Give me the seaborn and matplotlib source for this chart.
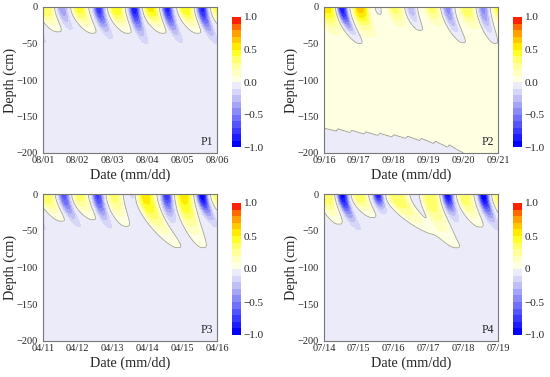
import numpy as np
import matplotlib
matplotlib.use("Agg")
import matplotlib.pyplot as plt
from matplotlib.colors import ListedColormap, BoundaryNorm
import seaborn as sns

# ---- data ----
# each lobe: surface peak day, peak value, day and depth (cm) of the lobe tip, time width (days)
p1_dates = ["08/01", "08/02", "08/03", "08/04", "08/05", "08/06"]
p1_peak_t = [0.08, 0.55, 1.05, 1.6, 2.1, 2.62, 3.1, 3.57, 4.1, 4.57, 5.05, -0.45]
p1_peak_v = [0.45, -0.35, 0.5, -0.75, 0.55, -0.85, 0.6, -0.8, 0.55, -0.8, 0.5, -0.45]
p1_tip_t = [0.43, 0.8, 1.43, 1.96, 2.44, 2.97, 3.45, 3.97, 4.45, 5.0, 5.4, 0.05]
p1_tip_d = [34, 32, 36, 45, 36, 52, 36, 50, 36, 52, 36, 50]
p1_width = [0.2, 0.15, 0.2, 0.16, 0.2, 0.16, 0.2, 0.16, 0.2, 0.16, 0.2, 0.16]
p1_base = -0.05

p2_dates = ["09/16", "09/17", "09/18", "09/19", "09/20", "09/21"]
p2_peak_t = [0.1, 0.52, 1.05, 1.55, 2.05, 2.5, 3.1, 3.55, 4.1, 4.57, 5.05]
p2_peak_v = [0.5, -0.95, 0.6, -0.15, 0.3, -0.35, 0.3, -0.5, 0.35, -0.5, 0.4]
p2_tip_t = [0.35, 1.03, 1.36, 1.6, 2.23, 2.76, 3.3, 4.0, 4.35, 4.92, 5.3]
p2_tip_d = [38, 50, 41, 10, 27, 32, 25, 49, 30, 50, 30]
p2_width = [0.2, 0.16, 0.2, 0.08, 0.18, 0.15, 0.18, 0.16, 0.18, 0.16, 0.18]
p2_base = 0.05
p2_floor_t = [0, 0.35, 0.4, 0.75, 0.8, 1.15, 1.2, 1.55, 1.6, 1.95, 2.0, 2.35, 2.4,
              2.75, 2.8, 3.15, 3.2, 3.55, 3.6, 4.0, 5]
p2_floor_d = [166, 170, 167, 172, 169, 174, 171, 176, 173, 178, 175, 180, 177,
              183, 180, 187, 184, 192, 189, 200, 215]

p3_dates = ["04/11", "04/12", "04/13", "04/14", "04/15", "04/16"]
p3_peak_t = [0.1, 0.6, 1.05, 1.57, 2.05, 2.55, 2.95, 3.55, 4.05, 4.57, 5.05, -0.45]
p3_peak_v = [0.45, -0.6, 0.4, -0.7, 0.4, -0.2, 0.6, -0.75, 0.6, -0.95, 0.45, -0.5]
p3_tip_t = [0.53, 1.05, 1.44, 1.92, 2.39, 2.6, 3.88, 3.74, 4.6, 4.98, 5.4, 0.05]
p3_tip_d = [37, 46, 35, 48, 44, 8, 73, 41, 73, 46, 35, 50]
p3_width = [0.2, 0.16, 0.2, 0.16, 0.2, 0.07, 0.24, 0.16, 0.22, 0.16, 0.2, 0.16]
p3_base = -0.05

p4_dates = ["07/14", "07/15", "07/16", "07/17", "07/18", "07/19"]
p4_peak_t = [0.08, 0.53, 1.02, 1.55, 2.1, 3.05, 3.55, 4.05, 4.58, 5.05]
p4_peak_v = [0.45, -0.9, 0.45, -0.85, 0.45, 0.45, -0.9, 0.45, -0.95, 0.45]
p4_tip_t = [0.43, 1.01, 1.4, 1.72, 3.2, 3.75, 3.81, 4.49, 5.0, 5.4]
p4_tip_d = [41, 50, 32, 28, 55, 70, 39, 45, 50, 40]
p4_width = [0.2, 0.16, 0.2, 0.15, 0.28, 0.24, 0.16, 0.2, 0.16, 0.2]
p4_base = -0.05

cb_ticks = [-1.0, -0.5, 0, 0.5, 1.0]
cb_labels = ["\u22121.0", "\u22120.5", "0", "0.5", "1.0"]
depth_ticks = [0, -50, -100, -150, -200]

# ---- style ----
sns.set_theme(style="white")
plt.rcParams["font.family"] = ["Liberation Serif", "DejaVu Serif"]
plt.rcParams["axes.unicode_minus"] = True

band_colors = [
    "#0000ff", "#1c1cff", "#3838fe", "#5454fc", "#7070fa",
    "#8b8bf8", "#a5a5f6", "#bfbff6", "#d6d6f8", "#ebebf9",
    "#ffffe2", "#ffffc2", "#ffff9c", "#ffff6a", "#ffff28",
    "#ffea00", "#ffc800", "#ffa000", "#ff6a00", "#ff2000",
]
levels = np.linspace(-1, 1, 21)
cmap = ListedColormap(band_colors)
norm = BoundaryNorm(levels, cmap.N)

t_grid = np.linspace(0, 5, 700)
d_grid = np.linspace(0, 200, 500)
T, D = np.meshgrid(t_grid, d_grid)


def build_field(peak_t, peak_v, tip_t, tip_d, width, base):
    z = np.full_like(T, base)
    for t0, a, tt, td, w in zip(peak_t, peak_v, tip_t, tip_d, width):
        ratio = np.log(abs(a) / 0.05)
        depth_scale = td / np.sqrt(ratio)
        # lobes stay upright near the surface and bend later deeper down
        lag = (tt - t0) * (D / td) ** 1.6
        shift = np.abs((T - t0 - lag) / w)
        z += a * np.exp(-(D / depth_scale) ** 2) * np.exp(-shift ** 3)
    return z


fields = [
    build_field(p1_peak_t, p1_peak_v, p1_tip_t, p1_tip_d, p1_width, p1_base),
    build_field(p2_peak_t, p2_peak_v, p2_tip_t, p2_tip_d, p2_width, p2_base),
    build_field(p3_peak_t, p3_peak_v, p3_tip_t, p3_tip_d, p3_width, p3_base),
    build_field(p4_peak_t, p4_peak_v, p4_tip_t, p4_tip_d, p4_width, p4_base),
]
floor = np.interp(T, p2_floor_t, p2_floor_d)
fields[1] = np.where(D > floor, -0.05, fields[1])

all_dates = [p1_dates, p2_dates, p3_dates, p4_dates]
names = ["P1", "P2", "P3", "P4"]

W, H = 550, 377
fig = plt.figure(figsize=(W / 100, H / 100), dpi=100)
# pixel boxes: (left, top, right, bottom) of plot areas and colorbars
ax_boxes = [(43, 7, 217, 153), (324, 7, 498, 153), (43, 194, 217, 341), (324, 194, 498, 341)]
cb_boxes = [(232, 17, 241, 147), (513, 17, 522, 147), (232, 203, 241, 335), (513, 203, 522, 335)]


def frac(box):
    l, t, r, b = box
    return [l / W, 1 - b / H, (r - l) / W, (b - t) / H]


for i in range(4):
    ax = fig.add_axes(frac(ax_boxes[i]))
    cf = ax.contourf(T, -D, fields[i], levels=levels, cmap=cmap, norm=norm)
    ax.contour(T, -D, fields[i], levels=[0], colors="#a0a0a0", linewidths=0.6)
    ax.set_xlim(0, 5)
    ax.set_ylim(-200, 0)
    ax.set_xticks(range(6))
    ax.set_xticklabels(all_dates[i], fontsize=7.5)
    ax.set_yticks(depth_ticks)
    ax.set_yticklabels([f"{v:d}".replace("-", "\u2212") for v in depth_ticks], fontsize=7.5)
    ax.tick_params(axis="x", direction="in", length=2.5, width=0.6, color="#666666", pad=2)
    ax.tick_params(axis="y", direction="out", length=2.5, width=0.6, color="#666666", pad=1)
    for sp in ax.spines.values():
        sp.set_color("#777777")
        sp.set_linewidth(0.8)
    ax.set_xlabel("Date (mm/dd)", fontsize=10.3)
    ax.set_ylabel("Depth (cm)", fontsize=10.3)
    ax.xaxis.set_label_coords(0.5, -0.105)
    ax.yaxis.set_label_coords(-0.15, 0.5)
    ax.text(0.975, 0.035, names[i], transform=ax.transAxes, ha="right", va="bottom", fontsize=8.5)

    cax = fig.add_axes(frac(cb_boxes[i]))
    cb = fig.colorbar(cf, cax=cax, ticks=cb_ticks)
    cb.ax.minorticks_off()
    cb.ax.set_yticklabels(cb_labels, fontsize=8)
    cb.ax.tick_params(which="both", length=0, pad=2)
    cb.outline.set_visible(False)

fig.savefig("out.png", dpi=100)
